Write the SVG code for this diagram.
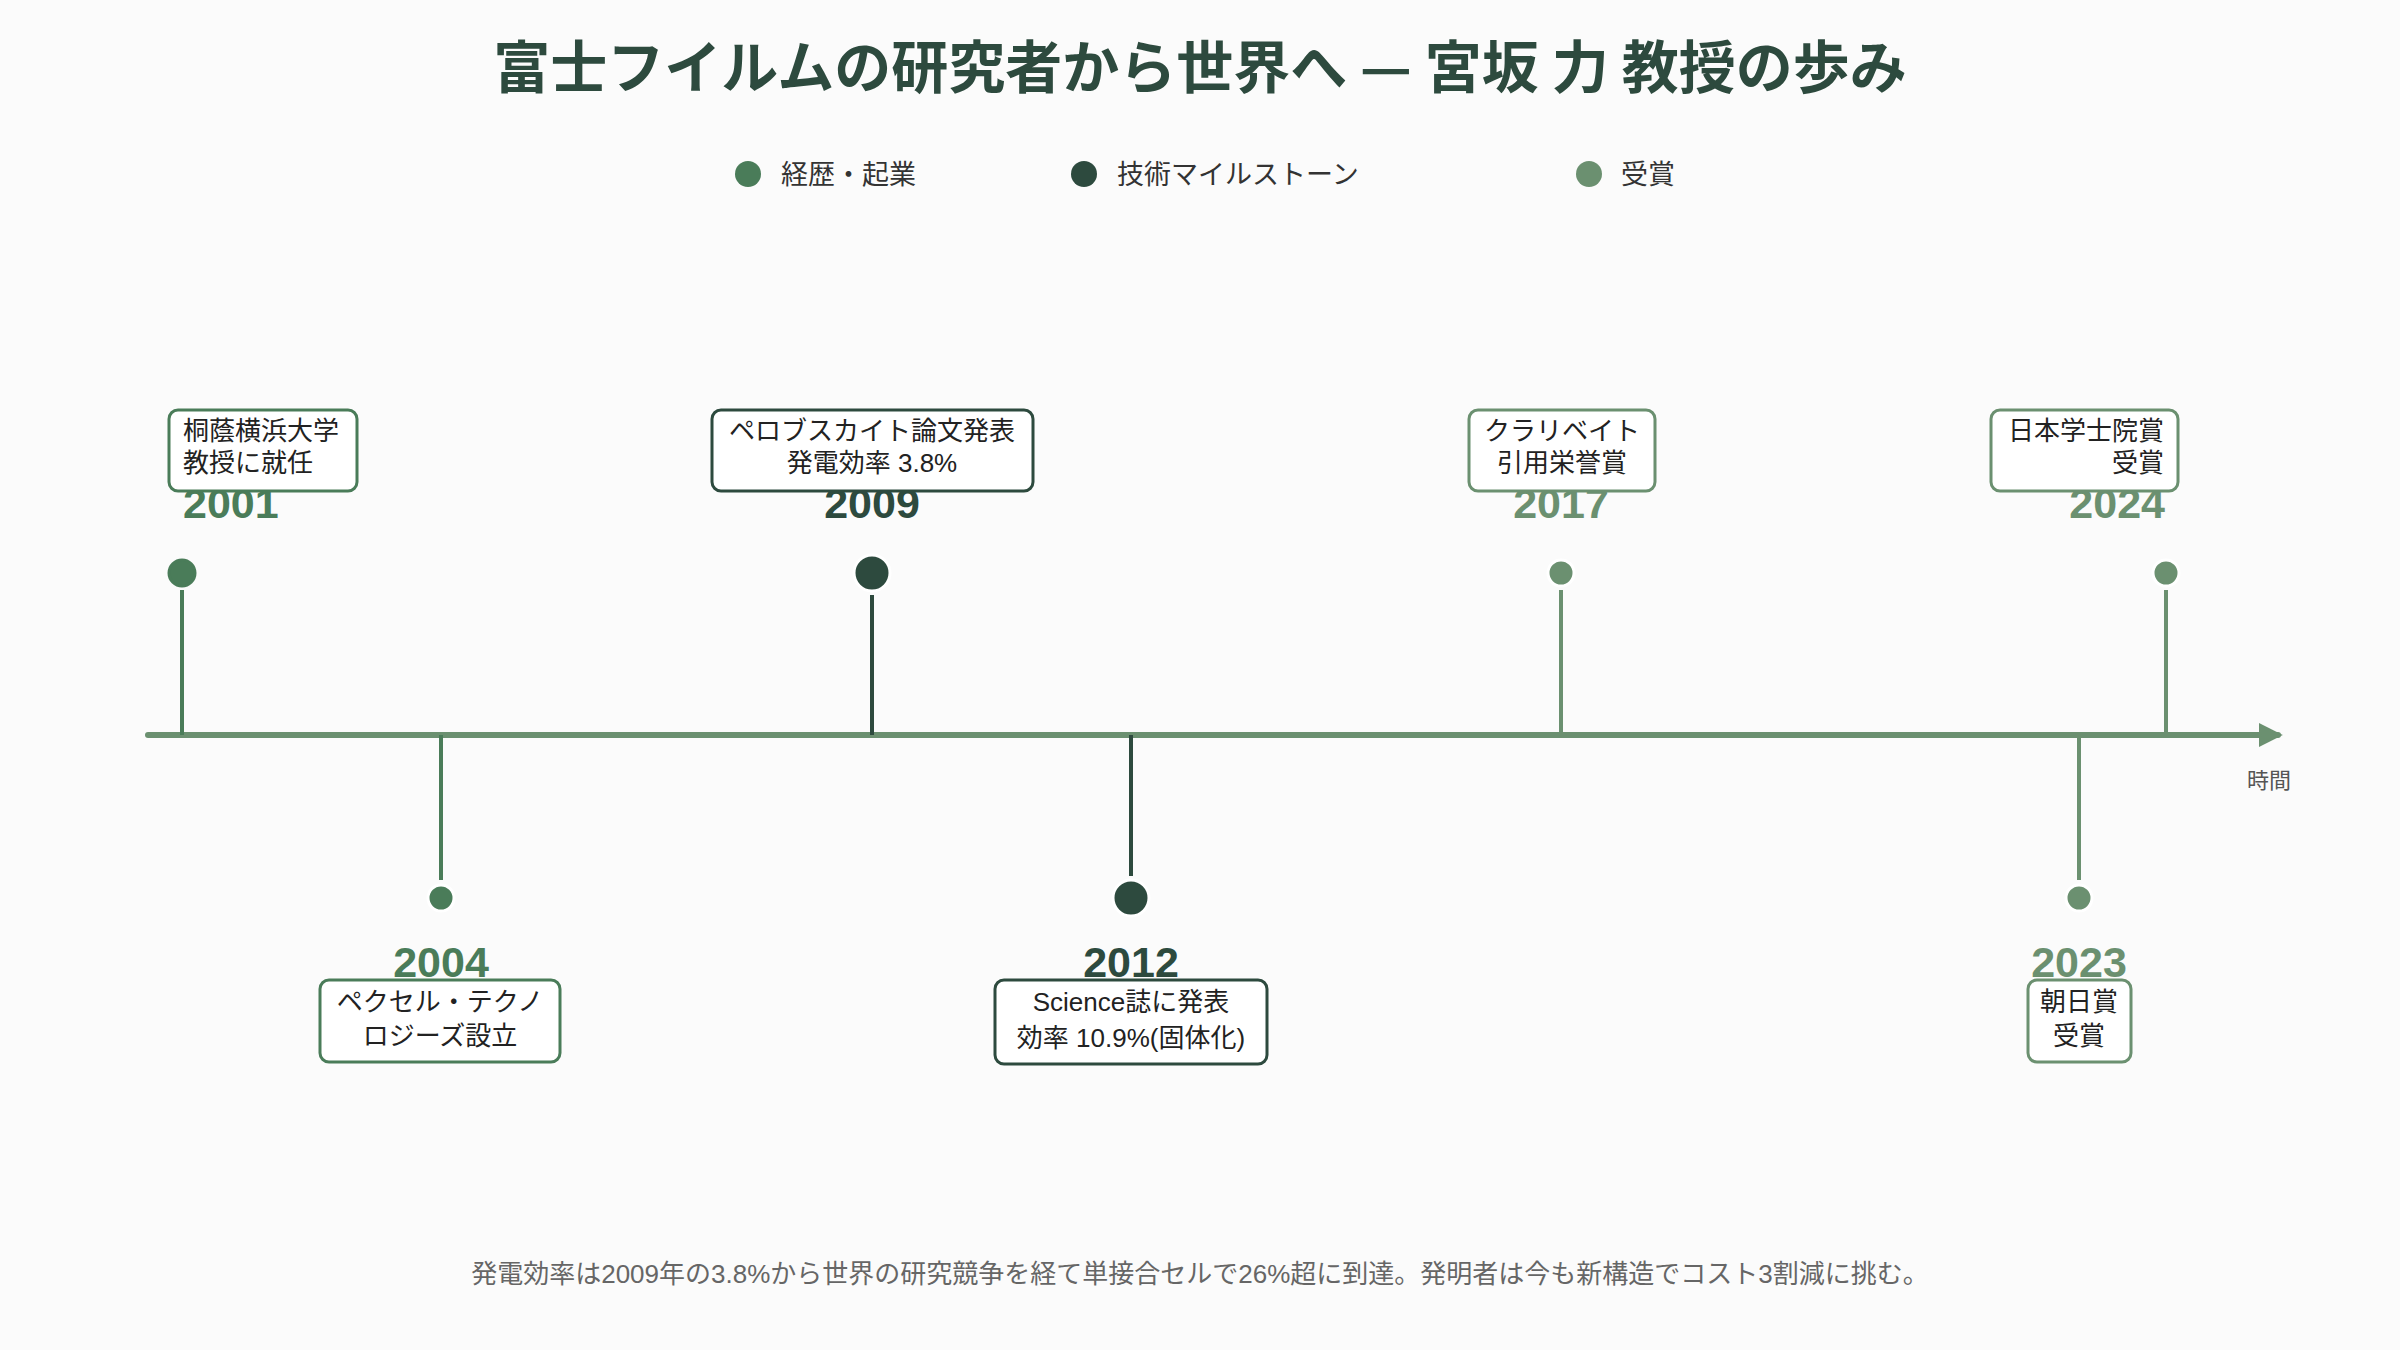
<svg xmlns="http://www.w3.org/2000/svg" width="2400" height="1350" viewBox="0 0 2400 1350">
<defs>
<style>
text{font-family:"Liberation Sans","Noto Sans CJK JP",sans-serif}
.t{font-size:57px;font-weight:700;fill:#2d4a3e;text-anchor:middle;font-family:"Noto Sans CJK JP",sans-serif}
.lg{font-size:27px;fill:#333}
.yr{font-size:43px;font-weight:700}
.bx{fill:#fff;stroke-width:3}
.lb{font-size:26px;fill:#222}
.c{fill:#4a7c59;stroke:#4a7c59}
</style>
<marker id="ar" viewBox="0 0 10 10" refX="8" refY="5" markerWidth="4" markerHeight="4" orient="auto"><path d="M0,0L10,5L0,10z" fill="#6b9070"/></marker>
</defs>
<rect width="2400" height="1350" fill="#fbfbfb"/>
<text class="t" x="1200" y="88">富士フイルムの研究者から世界へ — 宮坂 力 教授の歩み</text>
<g id="legend">
<circle cx="748" cy="174" r="13" fill="#4a7c59"/><text class="lg" x="781" y="184">経歴・起業</text>
<circle cx="1084" cy="174" r="13" fill="#2d4a3e"/><text class="lg" x="1117" y="184">技術マイルストーン</text>
<circle cx="1589" cy="174" r="13" fill="#6b9070"/><text class="lg" x="1621" y="184">受賞</text>
</g>
<g id="connectors" stroke-width="4">
<line x1="148" y1="735" x2="2278" y2="735" stroke="#6b9070" stroke-width="6" stroke-linecap="round" marker-end="url(#ar)"/>
<line x1="182" y1="590" x2="182" y2="735" stroke="#4a7c59"/>
<line x1="441" y1="735" x2="441" y2="880" stroke="#4a7c59"/>
<line x1="872" y1="595" x2="872" y2="735" stroke="#2d4a3e"/>
<line x1="1131" y1="735" x2="1131" y2="876" stroke="#2d4a3e"/>
<line x1="1561" y1="590" x2="1561" y2="735" stroke="#6b9070"/>
<line x1="2079" y1="735" x2="2079" y2="880" stroke="#6b9070"/>
<line x1="2166" y1="590" x2="2166" y2="735" stroke="#6b9070"/>
</g>
<text x="2247" y="788" fill="#555" style="font-size:22px">時間</text>
<g id="e2001">
<circle class="c" cx="182" cy="573" r="13" stroke="#fff" stroke-width="3"/>
<text class="yr" x="183" y="518" fill="#4a7c59">2001</text>
<rect class="bx" x="169" y="410" width="188" height="81" rx="9" stroke="#4a7c59"/>
<text class="lb" x="183" y="440">桐蔭横浜大学</text><text class="lb" x="183" y="472">教授に就任</text>
</g>
<g id="e2004">
<circle cx="441" cy="898" r="13" fill="#4a7c59" stroke="#fff" stroke-width="3"/>
<text class="yr" x="441" y="977" fill="#4a7c59" text-anchor="middle">2004</text>
<rect class="bx" x="320" y="980" width="240" height="82" rx="9" stroke="#4a7c59"/>
<text class="lb" x="440" y="1011" text-anchor="middle">ペクセル・テクノ</text><text class="lb" x="440" y="1045" text-anchor="middle">ロジーズ設立</text>
</g>
<g id="e2009">
<circle cx="872" cy="573" r="18" fill="#2d4a3e" stroke="#fff" stroke-width="3"/>
<text class="yr" x="872" y="518" fill="#2d4a3e" text-anchor="middle">2009</text>
<rect class="bx" x="712" y="410" width="321" height="81" rx="9" stroke="#2d4a3e"/>
<text class="lb" x="872" y="440" text-anchor="middle">ペロブスカイト論文発表</text><text class="lb" x="872" y="472" text-anchor="middle">発電効率 3.8%</text>
</g>
<g id="e2012">
<circle cx="1131" cy="898" r="18" fill="#2d4a3e" stroke="#fff" stroke-width="3"/>
<text class="yr" x="1131" y="977" fill="#2d4a3e" text-anchor="middle">2012</text>
<rect class="bx" x="995" y="980" width="272" height="84" rx="9" stroke="#2d4a3e"/>
<text class="lb" x="1131" y="1011" text-anchor="middle">Science誌に発表</text><text class="lb" x="1131" y="1047" text-anchor="middle">効率 10.9%(固体化)</text>
</g>
<g id="e2017">
<circle cx="1561" cy="573" r="13" fill="#6b9070" stroke="#fff" stroke-width="3"/>
<text class="yr" x="1561" y="518" fill="#6b9070" text-anchor="middle">2017</text>
<rect class="bx" x="1469" y="410" width="186" height="81" rx="9" stroke="#6b9070"/>
<text class="lb" x="1562" y="440" text-anchor="middle">クラリベイト</text><text class="lb" x="1562" y="472" text-anchor="middle">引用栄誉賞</text>
</g>
<g id="e2023">
<circle cx="2079" cy="898" r="13" fill="#6b9070" stroke="#fff" stroke-width="3"/>
<text class="yr" x="2079" y="977" fill="#6b9070" text-anchor="middle">2023</text>
<rect class="bx" x="2028" y="980" width="103" height="82" rx="9" stroke="#6b9070"/>
<text class="lb" x="2079" y="1011" text-anchor="middle">朝日賞</text><text class="lb" x="2079" y="1045" text-anchor="middle">受賞</text>
</g>
<g id="e2024">
<circle cx="2166" cy="573" r="13" fill="#6b9070" stroke="#fff" stroke-width="3"/>
<text class="yr" x="2165" y="518" fill="#6b9070" text-anchor="end">2024</text>
<rect class="bx" x="1991" y="410" width="187" height="81" rx="9" stroke="#6b9070"/>
<text class="lb" x="2164" y="440" text-anchor="end">日本学士院賞</text><text class="lb" x="2164" y="472" text-anchor="end">受賞</text>
</g>
<text x="1200" y="1283" text-anchor="middle" fill="#666" style="font-size:26px">発電効率は2009年の3.8%から世界の研究競争を経て単接合セルで26%超に到達。発明者は今も新構造でコスト3割減に挑む。</text>
</svg>
